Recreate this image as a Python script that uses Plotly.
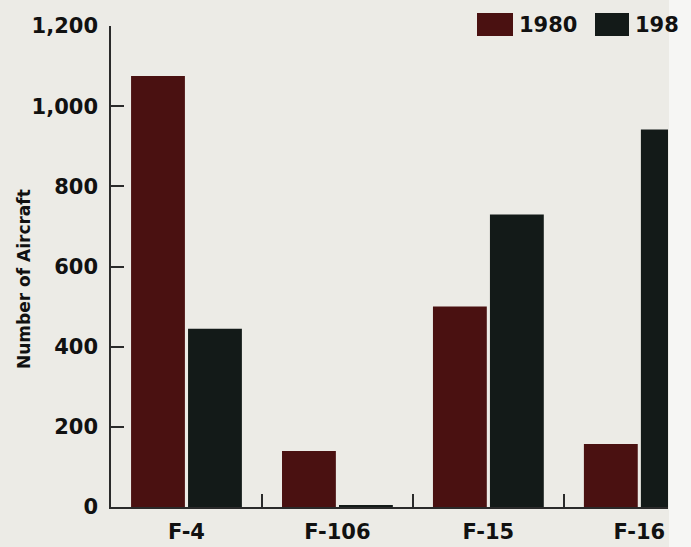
import plotly.graph_objects as go

# ---- data ----
categories = ["F-4", "F-106", "F-15", "F-16"]
series_names = ["1980", "198"]
values_1980 = [1075, 140, 500, 157]
values_198x = [445, 5, 730, 942]
y_tick_values = [0, 200, 400, 600, 800, 1000, 1200]
y_tick_labels = ["0", "200", "400", "600", "800", "1,000", "1,200"]
y_title = "Number of Aircraft"

# ---- style ----
W, H = 691, 547
L, R, T, B = 111, 23, 26, 40
colors = ["#4a1111", "#131a18"]
paper_bg = "#ecebe6"
font_family = "DejaVu Sans"
axis_color = "#2a2a2a"
text_color = "#111111"

def px_x(px):
    return (px - L) / (W - L - R)

def px_y(py):
    return (H - B - py) / (H - T - B)

fig = go.Figure()
for name, vals, col in zip(series_names, [values_1980, values_198x], colors):
    fig.add_trace(go.Bar(x=categories, y=vals, name=name, marker_color=col,
                         marker_line_width=0, showlegend=False))

fig.update_layout(
    width=W, height=H,
    margin=dict(l=L, r=R, t=T, b=B),
    paper_bgcolor=paper_bg,
    plot_bgcolor="rgba(0,0,0,0)",
    barmode="group",
    bargap=0.245,
    bargroupgap=0.055,
    font=dict(family=font_family, color=text_color, size=21, weight="bold"),
    xaxis=dict(
        range=[-0.5, 3.19], automargin=False,
        showline=True, linecolor=axis_color, linewidth=1.5,
        ticks="inside", tickson="boundaries", ticklen=13, tickwidth=1.5, tickcolor=axis_color,
        tickfont=dict(size=21, family=font_family, weight="bold", color=text_color),
        ticklabelstandoff=5,
        showgrid=False, zeroline=False,
    ),
    yaxis=dict(
        range=[0, 1200], automargin=False,
        tickvals=y_tick_values, ticktext=y_tick_labels,
        showline=True, linecolor=axis_color, linewidth=1.5,
        ticks="inside", ticklen=13, tickwidth=1.5, tickcolor=axis_color,
        tickfont=dict(size=21, family=font_family, weight="bold", color=text_color),
        ticklabelstandoff=7,
        showgrid=False, zeroline=False,
    ),
)

shapes = []
# lighter unscanned strip at right edge
shapes.append(dict(type="rect", xref="paper", yref="paper",
                   x0=px_x(669), x1=px_x(W + 5), y0=px_y(H + 5), y1=px_y(-5),
                   fillcolor="#f6f6f4", line_width=0, layer="below"))
# legend swatches
sw = [(477, 513), (595, 629)]
for (x0, x1), col in zip(sw, colors):
    shapes.append(dict(type="rect", xref="paper", yref="paper",
                       x0=px_x(x0), x1=px_x(x1), y0=px_y(36), y1=px_y(13),
                       fillcolor=col, line_width=0))
fig.update_layout(shapes=shapes)

annotations = []
for (x0, x1), name in zip(sw, series_names):
    annotations.append(dict(text=name, xref="paper", yref="paper",
                            x=px_x(x1 + 4), y=px_y(25), xanchor="left", yanchor="middle",
                            showarrow=False,
                            font=dict(size=21, family=font_family, weight="bold", color=text_color)))
annotations.append(dict(text=y_title, xref="paper", yref="paper",
                        x=px_x(24), y=px_y(279), textangle=-90,
                        xanchor="center", yanchor="middle", showarrow=False,
                        font=dict(size=17, family=font_family, weight="bold", color=text_color)))
fig.update_layout(annotations=annotations)

fig.write_html(
    "out.html",
    config={"displayModeBar": False},
    post_script="document.body.style.margin='0';document.body.style.overflow='hidden';",
)
